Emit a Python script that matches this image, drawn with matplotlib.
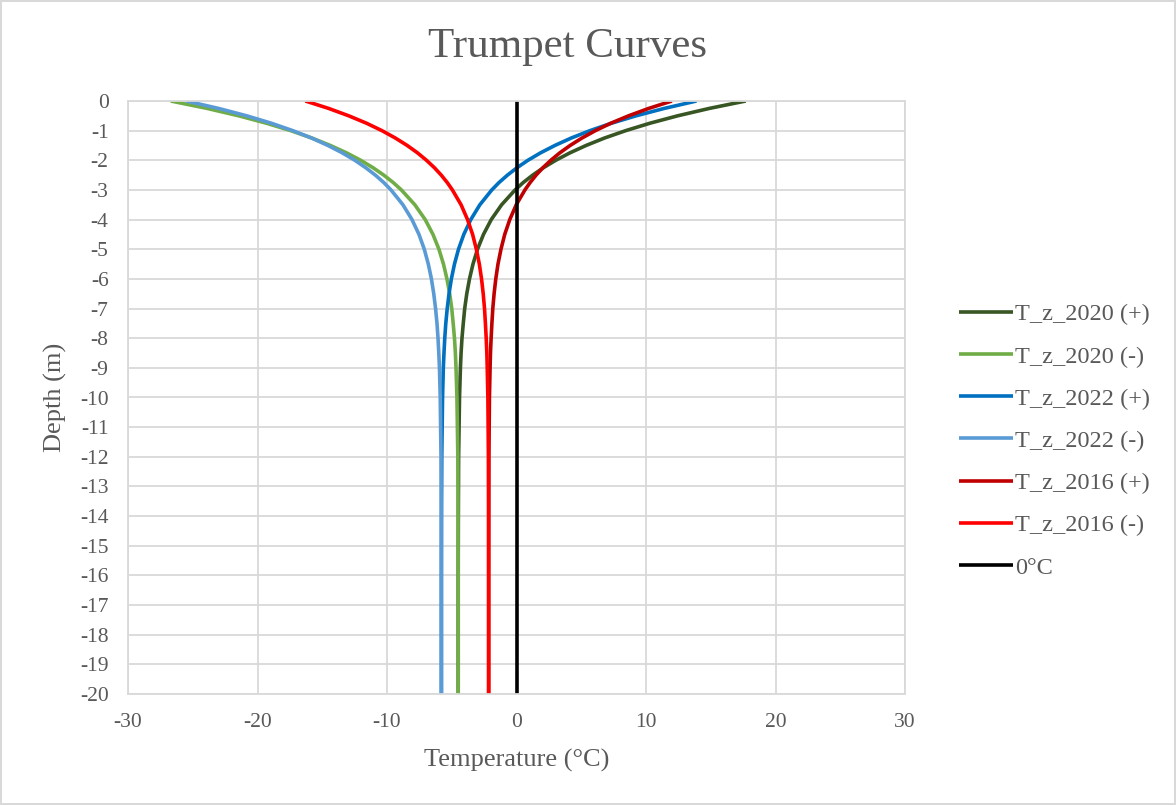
import matplotlib
matplotlib.use("Agg")
import matplotlib.pyplot as plt

# depth of each reading (m), read down the curves
depth = [0, -0.25, -0.5, -0.75, -1, -1.25, -1.5, -1.75, -2, -2.25, -2.5, -2.75, -3,
         -3.5, -4, -4.5, -5, -5.5, -6, -6.5, -7, -7.5, -8, -8.5, -9, -10, -12, -14, -16, -18, -20]

# temperatures (°C) at those depths
t_2020_pos = [17.70, 14.89, 12.44, 10.30, 8.43, 6.79, 5.37, 4.12, 3.03, 2.08, 1.25, 0.52, -0.11,
              -1.15, -1.95, -2.55, -3.01, -3.36, -3.63, -3.84, -4.00, -4.11, -4.21, -4.28, -4.33,
              -4.40, -4.47, -4.49, -4.50, -4.50, -4.50]
t_2020_neg = [-26.70, -23.89, -21.44, -19.30, -17.43, -15.79, -14.37, -13.12, -12.03, -11.08, -10.25, -9.52, -8.89,
              -7.85, -7.05, -6.45, -5.99, -5.64, -5.37, -5.16, -5.00, -4.89, -4.79, -4.72, -4.67,
              -4.60, -4.53, -4.51, -4.50, -4.50, -4.50]
t_2022_pos = [13.90, 11.41, 9.23, 7.33, 5.67, 4.22, 2.96, 1.85, 0.88, 0.04, -0.70, -1.35, -1.91,
              -2.83, -3.53, -4.07, -4.48, -4.79, -5.03, -5.21, -5.35, -5.46, -5.54, -5.60, -5.65,
              -5.71, -5.77, -5.79, -5.80, -5.80, -5.80]
t_2022_neg = [-25.50, -23.01, -20.83, -18.93, -17.27, -15.82, -14.56, -13.45, -12.48, -11.64, -10.90, -10.25, -9.69,
              -8.77, -8.07, -7.53, -7.12, -6.81, -6.57, -6.39, -6.25, -6.14, -6.06, -6.00, -5.95,
              -5.89, -5.83, -5.81, -5.80, -5.80, -5.80]
t_2016_pos = [12.00, 10.21, 8.65, 7.28, 6.09, 5.05, 4.14, 3.34, 2.65, 2.04, 1.51, 1.05, 0.65,
              -0.02, -0.52, -0.91, -1.20, -1.43, -1.60, -1.73, -1.83, -1.90, -1.96, -2.01, -2.04,
              -2.09, -2.13, -2.14, -2.15, -2.15, -2.15]
t_2016_neg = [-16.30, -14.51, -12.95, -11.58, -10.39, -9.35, -8.44, -7.64, -6.95, -6.34, -5.81, -5.35, -4.95,
              -4.28, -3.78, -3.39, -3.10, -2.87, -2.70, -2.57, -2.47, -2.40, -2.34, -2.29, -2.26,
              -2.21, -2.17, -2.16, -2.15, -2.15, -2.15]

zero_x = [0, 0]
zero_z = [0, -20]

labels = ["T_z_2020 (+)", "T_z_2020 (-)", "T_z_2022 (+)", "T_z_2022 (-)",
          "T_z_2016 (+)", "T_z_2016 (-)", "0°C"]
colors = ["#375623", "#70AD47", "#0070C0", "#5B9BD5", "#C00000", "#FF0000", "#000000"]

x_ticks = [-30, -20, -10, 0, 10, 20, 30]
y_ticks = list(range(0, -21, -1))

plt.rcParams['font.family'] = ['Liberation Serif', 'DejaVu Serif']
txt = "#595959"
grid = "#D9D9D9"

fig = plt.figure(figsize=(11.76, 8.05), dpi=100)
fig.patch.set_edgecolor(grid)
fig.patch.set_linewidth(1.5)
ax = fig.add_axes([128 / 1176, 111 / 805, 777 / 1176, 593 / 805])

series = [t_2020_pos, t_2020_neg, t_2022_pos, t_2022_neg, t_2016_pos, t_2016_neg]
for vals, lab, col in zip(series, labels[:6], colors[:6]):
    ax.plot(vals, depth, color=col, lw=2.6, label=lab, solid_capstyle='butt')
ax.plot(zero_x, zero_z, color=colors[6], lw=2.6, label=labels[6], solid_capstyle='butt')

ax.set_xlim(-30, 30)
ax.set_ylim(-20, 0)
ax.set_xticks(x_ticks)
ax.set_yticks(y_ticks)
ax.set_xticklabels([str(v) for v in x_ticks])
ax.set_yticklabels([str(v) for v in y_ticks])
ax.grid(True, color=grid, lw=1.3)
ax.set_axisbelow(True)
for s in ax.spines.values():
    s.set_color(grid)
    s.set_linewidth(1.3)
ax.tick_params(length=0, labelsize=15.5, labelcolor=txt)
ax.tick_params(axis='x', pad=14)
ax.tick_params(axis='y', pad=14)

ax.set_xlabel("Temperature (°C)", fontsize=19, color=txt, labelpad=12)
ax.set_ylabel("Depth (m)", fontsize=19, color=txt, labelpad=9)
fig.text(567 / 1176, 1 - 47 / 805, "Trumpet Curves", fontsize=31, color=txt,
         ha='center', va='center')

leg = ax.legend(loc='center left', bbox_to_anchor=(947 / 1176, 1 - 441 / 805),
                bbox_transform=fig.transFigure, frameon=False, fontsize=17.5,
                handlelength=2.2, handletextpad=0.1, labelspacing=0.83, borderpad=0)
for t in leg.get_texts():
    t.set_color(txt)

plt.savefig("out.png", dpi=100)
